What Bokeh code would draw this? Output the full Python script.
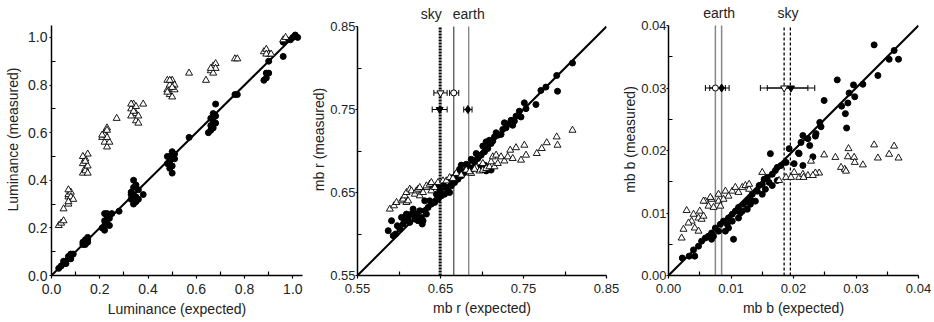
from bokeh.plotting import figure
from bokeh.layouts import row
from bokeh.models import (Range1d, FixedTicker, Label, Whisker, TeeHead,
                          ColumnDataSource, BasicTickFormatter)
from bokeh.embed import file_html
from bokeh.resources import INLINE

FONT = "Liberation Sans"

# ---------------- Panel 1: Luminance ----------------
L_TICKS = [0.0, 0.2, 0.4, 0.6, 0.8, 1.0]
L_MINOR = [0.1, 0.3, 0.5, 0.7, 0.9]
L_LABELS = ["0.0", "0.2", "0.4", "0.6", "0.8", "1.0"]

L_FX = [0.03,0.04,0.05,0.05,0.06, 0.07,0.08,0.08,0.09,0.07,0.08,
        0.13,0.14,0.14,0.15,0.13,0.15,0.14,0.15,
        0.21,0.22,0.22,0.23,0.23,0.22,0.24,0.23,0.24,0.22, 0.25,0.28,
        0.33,0.33,0.34,0.34,0.35,0.34,0.35,0.33,0.36,0.35,0.34,0.36,0.38,
        0.48,0.49,0.50,0.49,0.50,0.51,0.48,0.50,0.51,0.49, 0.57,
        0.65,0.66,0.67,0.68,0.66,0.67,0.68,0.68,0.66,0.67, 0.76,0.77,
        0.88,0.89,0.90,0.89,0.90, 0.96,0.96,0.97,0.99,1.01,1.02,1.00]
L_FY = [0.03,0.04,0.05,0.06,0.05, 0.07,0.08,0.09,0.09,0.08,0.07,
        0.13,0.14,0.15,0.15,0.14,0.14,0.13,0.16,
        0.20,0.21,0.23,0.25,0.22,0.19,0.24,0.26,0.21,0.26, 0.26,0.27,
        0.32,0.35,0.37,0.40,0.38,0.30,0.33,0.34,0.36,0.31,0.34,0.32,0.34,
        0.47,0.50,0.52,0.48,0.46,0.49,0.50,0.43,0.51,0.45, 0.58,
        0.60,0.63,0.65,0.67,0.61,0.68,0.64,0.72,0.66,0.62, 0.76,0.76,
        0.82,0.85,0.85,0.83,0.90, 0.92,0.98,0.99,0.99,1.01,1.00,1.00]
L_TX = [0.03,0.04,0.05,0.05,0.07,0.07,0.07,0.08,0.07,0.08,0.09,0.07,
        0.13,0.14,0.13,0.14,0.15,0.14,0.15,0.13,0.14,0.15,
        0.21,0.22,0.23,0.22,0.23,0.24,0.22,0.23,0.21,0.23, 0.27,
        0.33,0.34,0.35,0.33,0.35,0.36,0.34,0.35,0.33,0.36,0.38,
        0.48,0.49,0.50,0.48,0.51,0.49,0.50,0.51,0.48,0.50,0.49, 0.57,
        0.64,0.66,0.67,0.68,0.67,0.68,0.66, 0.76,0.77,
        0.88,0.89,0.90,0.89,0.91, 0.96,0.97]
L_TY = [0.21,0.22,0.23,0.28,0.30,0.33,0.34,0.35,0.36,0.33,0.32,0.31,
        0.43,0.45,0.47,0.49,0.51,0.44,0.46,0.50,0.48,0.43,
        0.58,0.60,0.62,0.56,0.54,0.56,0.59,0.58,0.59,0.61, 0.66,
        0.70,0.72,0.68,0.67,0.65,0.64,0.69,0.71,0.72,0.67,0.72,
        0.78,0.80,0.82,0.82,0.80,0.76,0.75,0.78,0.77,0.79,0.82, 0.85,
        0.82,0.86,0.88,0.89,0.85,0.87,0.87, 0.91,0.91,
        0.94,0.95,0.93,0.93,0.93, 0.99,1.00]

# ---------------- Panel 2: mb r ----------------
R_TICKS = [0.55, 0.65, 0.75, 0.85]
R_MINOR = [0.60, 0.70, 0.80]
R_LABELS = ["0.55", "0.65", "0.75", "0.85"]

R_FX = [0.587,0.591,0.596,0.598,0.603,0.607,0.611,0.615,0.619,0.623,0.627,0.629,0.617,0.625,0.631,0.635,
        0.639,0.643,0.647,0.651,0.655,0.659,0.661,0.653,0.663,0.667,0.671,0.675,0.679,0.683,0.685,0.691,
        0.695,0.699,0.703,0.707,0.711,0.675,0.647,0.641,0.689,0.697,0.703,0.699,0.705,0.711,
        0.715,0.719,0.725,0.729,0.733,0.735,0.741,0.747,0.753,0.751,0.765,0.771,0.777,0.791,0.790,0.809,0.709,0.705,
        0.605,0.609,0.613,0.601,0.621,0.633,0.637,0.645,0.657,0.665,0.669,0.687,0.693,0.681,0.701,0.713,
        0.717,0.723,0.727,0.737,0.745,0.739,0.631,0.649,0.663,0.673,0.593,0.628]
R_FY = [0.604,0.616,0.600,0.610,0.620,0.616,0.620,0.624,0.618,0.616,0.620,0.616,0.630,0.628,0.628,0.632,
        0.636,0.638,0.642,0.646,0.648,0.652,0.650,0.660,0.658,0.662,0.666,0.670,0.674,0.677,0.680,0.686,
        0.691,0.695,0.699,0.703,0.709,0.683,0.660,0.657,0.679,0.680,0.683,0.680,0.676,0.677,
        0.717,0.719,0.726,0.728,0.733,0.737,0.742,0.741,0.751,0.758,0.756,0.773,0.777,0.772,0.791,0.806,0.713,0.711,
        0.612,0.624,0.614,0.606,0.624,0.624,0.640,0.648,0.656,0.668,0.672,0.690,0.697,0.684,0.706,0.712,
        0.722,0.720,0.734,0.731,0.748,0.736,0.640,0.654,0.664,0.678,0.598,0.612]
R_TX = [0.589,0.594,0.597,0.603,0.605,0.607,0.609,0.611,0.609,0.613,
        0.615,0.619,0.621,0.623,0.625,0.625,0.629,0.633,0.633,0.637,
        0.639,0.639,0.643,0.647,0.653,0.657,0.661,0.665,0.669,0.675,
        0.681,0.687,0.693,0.697,0.701,0.701,0.705,0.709,0.711,0.713,
        0.715,0.717,0.719,0.723,0.727,0.731,0.734,0.737,0.741,0.747,
        0.751,0.753,0.766,0.772,0.778,0.790,0.791,0.809,0.685,0.691]
R_TY = [0.630,0.634,0.638,0.640,0.642,0.646,0.638,0.640,0.650,0.654,
        0.652,0.648,0.652,0.654,0.646,0.656,0.650,0.656,0.658,0.660,
        0.652,0.662,0.656,0.662,0.664,0.664,0.668,0.667,0.673,0.671,
        0.677,0.673,0.680,0.676,0.685,0.677,0.679,0.681,0.687,0.693,
        0.681,0.695,0.685,0.693,0.688,0.693,0.701,0.691,0.704,0.689,
        0.707,0.695,0.697,0.703,0.710,0.717,0.707,0.725,0.675,0.678]
R_SKY_LINES = [0.6496]
R_EARTH_LINES = [0.666, 0.684]
# reference markers, order [sky, earth]; open at upper row, filled at lower row
R_OPEN_X = [0.650, 0.666]
R_OPEN_Y = [0.770, 0.770]
R_OPEN_LO = [0.642, 0.661]
R_OPEN_HI = [0.658, 0.672]
R_FILL_X = [0.649, 0.683]
R_FILL_Y = [0.750, 0.750]
R_FILL_LO = [0.640, 0.678]
R_FILL_HI = [0.658, 0.688]
R_SKY_LABEL_X = 0.639
R_EARTH_LABEL_X = 0.684

# ---------------- Panel 3: mb b ----------------
B_TICKS = [0.00, 0.01, 0.02, 0.03, 0.04]
B_MINOR = [0.005, 0.015, 0.025, 0.035]
B_LABELS = ["0.00", "0.01", "0.02", "0.03", "0.04"]

B_FX = [0.0022,0.0033,0.0042,0.0040,0.0048,0.0053,0.0059,0.0064,0.0069,0.0072,0.0075,0.0083,0.0088,0.0094,
        0.0096,0.0102,0.0107,0.0112,0.0115,0.0120,0.0126,0.0131,0.0134,0.0142,0.0145,0.0150,0.0153,0.0158,
        0.0161,0.0166,0.0171,0.0174,0.0180,0.0163,0.0188,0.0193,0.0201,0.0209,0.0104,0.0069,0.0080,0.0091,
        0.0096,0.0102,0.0112,0.0118,0.0126,0.0131,0.0139,0.0150,0.0155,0.0166,0.0174,
        0.0329,0.0361,0.0353,0.0368,0.0335,0.0270,0.0296,0.0311,0.0298,0.0289,0.0287,0.0277,0.0283,0.0249,
        0.0285,0.0242,0.0244,0.0236,0.0235,0.0215,0.0223,0.0226,0.0212,0.0208,0.0231,0.0215]
B_FY = [0.0028,0.0031,0.0031,0.0041,0.0047,0.0055,0.0060,0.0063,0.0068,0.0063,0.0076,0.0082,0.0087,0.0082,
        0.0092,0.0098,0.0103,0.0109,0.0100,0.0114,0.0119,0.0122,0.0130,0.0135,0.0144,0.0146,0.0154,0.0157,
        0.0149,0.0162,0.0168,0.0173,0.0176,0.0195,0.0181,0.0203,0.0179,0.0195,0.0058,0.0058,0.0071,0.0071,
        0.0076,0.0087,0.0092,0.0103,0.0106,0.0114,0.0119,0.0130,0.0138,0.0144,0.0152,
        0.0369,0.0360,0.0346,0.0346,0.0320,0.0313,0.0305,0.0306,0.0286,0.0292,0.0276,0.0271,0.0259,0.0280,
        0.0236,0.0245,0.0238,0.0227,0.0223,0.0224,0.0219,0.0208,0.0213,0.0196,0.0190,0.0176]
B_TX = [0.0021,0.0024,0.0029,0.0037,0.0040,0.0042,0.0048,0.0050,0.0053,0.0056,0.0048,0.0059,0.0064,0.0069,
        0.0072,0.0080,0.0083,0.0088,0.0091,0.0096,0.0102,0.0107,0.0112,0.0118,0.0123,0.0129,0.0150,0.0177,
        0.0188,0.0196,0.0201,0.0209,0.0032,0.0067,0.0080,0.0129,0.0056,
        0.0329,0.0361,0.0288,0.0353,0.0249,0.0267,0.0287,0.0297,0.0335,0.0368,0.0298,0.0311,0.0228,0.0276,
        0.0282,0.0284,0.0241,0.0235,0.0223,0.0215,0.0231,0.0216]
B_TY = [0.0060,0.0074,0.0104,0.0087,0.0098,0.0076,0.0092,0.0103,0.0090,0.0095,0.0071,0.0119,0.0111,0.0122,
        0.0109,0.0119,0.0111,0.0122,0.0135,0.0127,0.0135,0.0141,0.0133,0.0141,0.0144,0.0138,0.0165,0.0152,
        0.0157,0.0157,0.0165,0.0157,0.0084,0.0125,0.0130,0.0146,0.0119,
        0.0209,0.0207,0.0203,0.0194,0.0193,0.0189,0.0190,0.0189,0.0188,0.0188,0.0181,0.0177,0.0183,0.0173,
        0.0170,0.0167,0.0164,0.0164,0.0160,0.0162,0.0160,0.0157]
B_EARTH_LINES = [0.0075, 0.0085]
B_SKY_LINES = [0.0185, 0.0195]
# reference markers, order [sky, earth]
B_OPEN_X = [0.0185, 0.0075]
B_OPEN_Y = [0.030, 0.030]
B_OPEN_LO = [0.0147, 0.0059]
B_OPEN_HI = [0.0223, 0.0091]
B_FILL_X = [0.0196, 0.0085]
B_FILL_Y = [0.030, 0.030]
B_FILL_LO = [0.0158, 0.0066]
B_FILL_HI = [0.0234, 0.0097]
B_EARTH_LABEL_X = 0.0081
B_SKY_LABEL_X = 0.0191

FRAME_H = 272      # frame height in px, incl. a strip above each axis for top labels
TOP, BOTTOM = 3, 47


def make_fig(xr, yr, fw, bl, br):
    p = figure(frame_width=fw, frame_height=FRAME_H, title=None,
               x_range=Range1d(*xr), y_range=Range1d(*yr),
               min_border_left=bl, min_border_right=br,
               min_border_top=TOP, min_border_bottom=BOTTOM,
               output_backend="svg", toolbar_location=None)
    p.outline_line_color = None
    p.xgrid.visible = False
    p.ygrid.visible = False
    return p


def style_axes(p, ticks, minors, labels, prec, xlabel, ylabel, tick_size, ybounds, ystand):
    for ax, title, is_x in [(p.xaxis[0], xlabel, True), (p.yaxis[0], ylabel, False)]:
        ax.ticker = FixedTicker(ticks=ticks, minor_ticks=minors)
        ax.formatter = BasicTickFormatter(precision=prec)
        ax.major_label_overrides = {t: l for t, l in zip(ticks, labels)}
        ax.axis_label = title
        ax.axis_line_width = 1.5
        ax.axis_line_color = "black"
        ax.major_tick_in = 0
        ax.major_tick_out = 3 if is_x else 2
        ax.major_tick_line_width = 1.2
        ax.minor_tick_in = 4
        ax.minor_tick_out = 0
        ax.minor_tick_line_width = 1.2
        ax.major_label_text_font = FONT
        ax.major_label_text_font_size = tick_size
        ax.major_label_text_color = "#222222"
        ax.axis_label_text_font = FONT
        ax.axis_label_text_font_size = "14px"
        ax.axis_label_text_font_style = "normal"
        ax.axis_label_text_color = "#222222"
        if is_x:
            ax.major_label_standoff = 5
            ax.axis_label_standoff = 4
        else:
            ax.major_label_standoff = ystand[0]
            ax.axis_label_standoff = ystand[1]
    p.yaxis[0].bounds = ybounds


def scatter_sets(p, fx, fy, tx, ty, diag):
    p.line(diag, diag, line_color="black", line_width=2)
    p.scatter(fx, fy, marker="circle", size=6, fill_color="black", line_color="black")
    p.scatter(tx, ty, marker="triangle", size=7, fill_color="white",
              line_color="black", line_width=0.9)


def vlines(p, xs, y0, y1, color, width, dash):
    p.segment(x0=xs, y0=[y0] * len(xs), x1=xs, y1=[y1] * len(xs),
              line_color=color, line_width=width, line_dash=dash)


def refs(p, ox, oy, olo, ohi, fxx, fyy, flo, fhi):
    # index 0 = sky (inverted triangles), index 1 = earth (circle / diamond)
    for xs, ys, lo, hi in [(ox, oy, olo, ohi), (fxx, fyy, flo, fhi)]:
        src = ColumnDataSource(dict(y=ys, lo=lo, hi=hi))
        p.add_layout(Whisker(source=src, base="y", lower="lo", upper="hi", dimension="width",
                             line_color="black", line_width=1,
                             lower_head=TeeHead(size=6, line_color="black", line_width=1),
                             upper_head=TeeHead(size=6, line_color="black", line_width=1)))
    p.scatter([ox[1]], [oy[1]], marker="circle", size=6, fill_color="white", line_color="black")
    p.scatter([ox[0]], [oy[0]], marker="inverted_triangle", size=7, fill_color="white", line_color="black")
    p.scatter([fxx[1]], [fyy[1]], marker="diamond", size=8, fill_color="black", line_color="black")
    p.scatter([fxx[0]], [fyy[0]], marker="inverted_triangle", size=7, fill_color="black", line_color="black")


def top_label(p, x, ytop, text):
    p.add_layout(Label(x=x, y=ytop, y_offset=5, text=text, text_align="center",
                       text_baseline="bottom", text_font=FONT, text_font_size="14px",
                       text_color="#222222"))


# Panel 1: axis 0..1.05 spans 250 px; the frame is 272 px tall
p1 = make_fig((0, 1.04), (0, 1.05 * FRAME_H / 250), 251, 51, 6)
style_axes(p1, L_TICKS, L_MINOR, L_LABELS, 1, "Luminance (expected)", "Luminance (measured)",
           "14px", (0.0, 1.05), (2, 4))
scatter_sets(p1, L_FX, L_FY, L_TX, L_TY, [0.0, 1.0])

# Panel 2: axis 0.55..0.85 spans 249 px
p2 = make_fig((0.55, 0.85), (0.55, 0.55 + 0.30 * FRAME_H / 249), 249, 46, 13)
style_axes(p2, R_TICKS, R_MINOR, R_LABELS, 2, "mb r (expected)", "mb r (measured)",
           "13px", (0.55, 0.85), (0, 0))
vlines(p2, R_SKY_LINES, 0.55, 0.85, "black", 3, "2 1")
vlines(p2, R_EARTH_LINES[:1], 0.55, 0.85, "#444444", 1.2, "solid")
vlines(p2, R_EARTH_LINES[1:], 0.55, 0.85, "#777777", 1.2, "solid")
scatter_sets(p2, R_FX, R_FY, R_TX, R_TY, [0.55, 0.85])
refs(p2, R_OPEN_X, R_OPEN_Y, R_OPEN_LO, R_OPEN_HI, R_FILL_X, R_FILL_Y, R_FILL_LO, R_FILL_HI)
top_label(p2, R_SKY_LABEL_X, 0.85, "sky")
top_label(p2, R_EARTH_LABEL_X, 0.85, "earth")

# Panel 3: axis 0..0.04 spans 250 px
p3 = make_fig((0.0, 0.04), (0.0, 0.04 * FRAME_H / 250), 250, 46, 14)
style_axes(p3, B_TICKS, B_MINOR, B_LABELS, 2, "mb b (expected)", "mb b (measured)",
           "13px", (0.0, 0.04), (0, 0))
vlines(p3, B_EARTH_LINES, 0.0, 0.04, "#888888", 1.5, "solid")
vlines(p3, B_SKY_LINES, 0.0, 0.04, "black", 1.3, "3 2")
scatter_sets(p3, B_FX, B_FY, B_TX, B_TY, [0.0, 0.04])
refs(p3, B_OPEN_X, B_OPEN_Y, B_OPEN_LO, B_OPEN_HI, B_FILL_X, B_FILL_Y, B_FILL_LO, B_FILL_HI)
top_label(p3, B_EARTH_LABEL_X, 0.04, "earth")
top_label(p3, B_SKY_LABEL_X, 0.04, "sky")

layout = row(p1, p2, p3)
open("out.html", "w").write(file_html(layout, INLINE))
